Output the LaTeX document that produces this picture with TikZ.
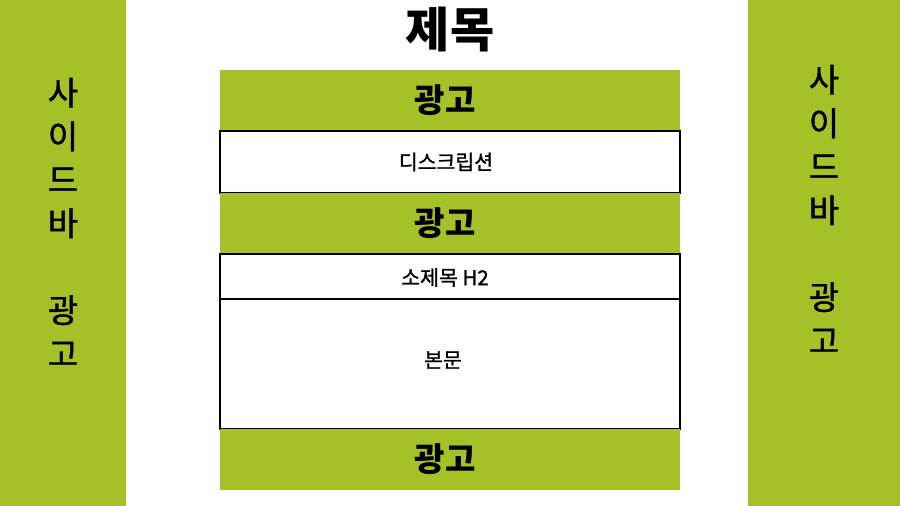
\documentclass[tikz,border=0pt]{standalone}
\usepackage{fontspec}
\setmainfont{Noto Sans CJK KR}
\newfontfamily\medfont{Noto Sans CJK KR}[FakeBold=1.2]
\definecolor{adgreen}{HTML}{A4C227}
\begin{document}
\begin{tikzpicture}[x=1pt,y=-1pt,
  sidebar/.style={fill=adgreen, draw=none, inner sep=0pt, outer sep=0pt, anchor=north west},
  adbox/.style={fill=adgreen, draw=none, inner sep=0pt, outer sep=0pt, anchor=north west,
    minimum width=460pt},
  textbox/.style={fill=white, draw=black, line width=1.3pt, inner sep=0pt, outer sep=0pt, anchor=north west,
    minimum width=460pt},
  adtext/.style={inner sep=0pt, font=\bfseries\fontsize{33}{36}\selectfont},
  boxtext/.style={inner sep=0pt, font=\medfont\fontsize{20.5}{22}\selectfont},
  sidetext/.style={align=center, inner sep=0pt, font=\medfont\fontsize{33}{43.5}\selectfont},
  titletext/.style={inner sep=0pt, font=\bfseries\fontsize{48}{50}\selectfont}]
\useasboundingbox (0,0) rectangle (900,506);
\fill[white] (0,0) rectangle (900,506);
% sidebars
\node[sidebar, minimum width=126pt, minimum height=506pt] (lside) at (0,0) {};
\node[sidebar, minimum width=152pt, minimum height=506pt] (rside) at (748,0) {};
\node[sidetext] (ltext) at (63,222) {사\\이\\드\\바\\\mbox{}\\광\\고};
\node[sidetext] (rtext) at (824,209) {사\\이\\드\\바\\\mbox{}\\광\\고};
% title
\node[titletext] (title) at (450,30) {제목};
% center column
\node[adbox, minimum height=61pt] (ad1) at (220,70) {};
\node[textbox, minimum height=62pt] (desc) at (220,131) {};
\node[adbox, minimum height=61pt] (ad2) at (220,193) {};
\node[textbox, minimum height=45pt] (h2) at (220,254) {};
\node[textbox, minimum height=130pt] (body) at (220,299) {};
\node[adbox, minimum height=61pt] (ad3) at (220,429) {};
% texts
\node[adtext, xshift=-5pt] (ad1t) at (ad1.center) {광고};
\node[boxtext, xshift=-4pt] (desct) at (desc.center) {디스크립션};
\node[adtext, xshift=-5pt] (ad2t) at (ad2.center) {광고};
\node[boxtext, xshift=-5pt, yshift=-1pt] (h2t) at (h2.center) {소제목 H2};
\node[boxtext, xshift=-7pt, yshift=4pt] (bodyt) at (body.center) {본문};
\node[adtext, xshift=-5pt] (ad3t) at (ad3.center) {광고};
\end{tikzpicture}
\end{document}
